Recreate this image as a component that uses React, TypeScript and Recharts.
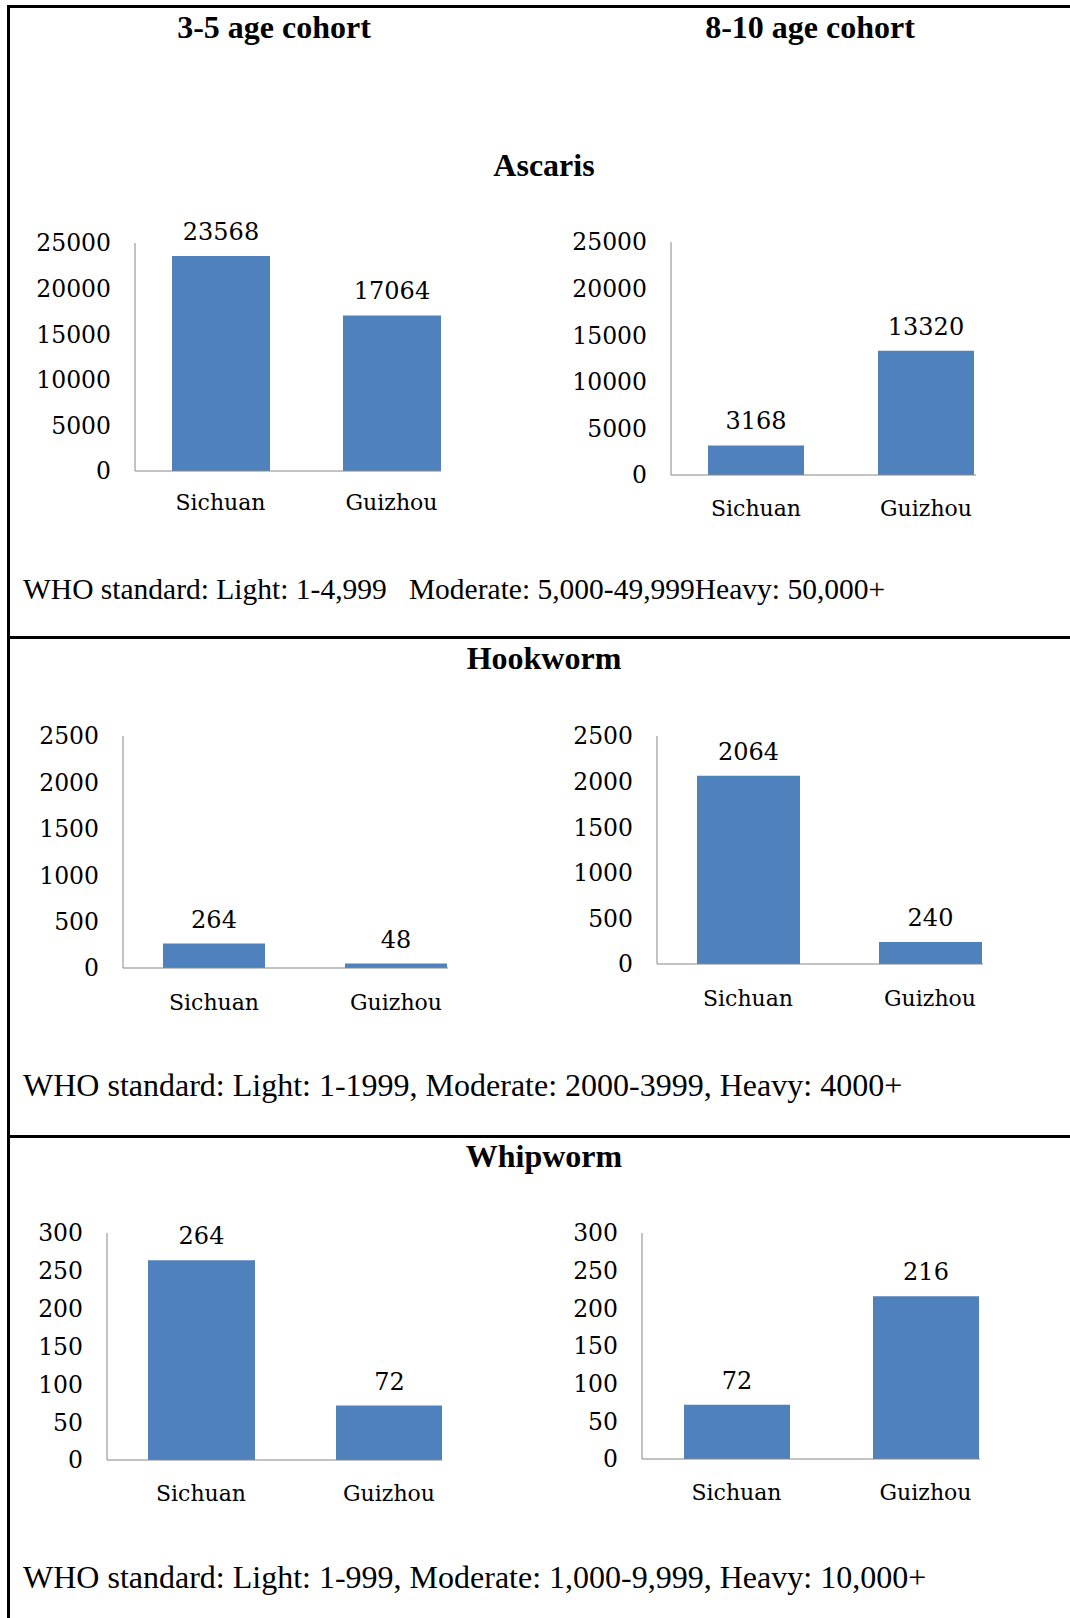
import { BarChart, Bar, XAxis, YAxis, LabelList } from 'recharts';

const categories = ['Sichuan', 'Guizhou'];

const ascarisYoung = [23568, 17064];
const ascarisOld = [3168, 13320];
const hookwormYoung = [264, 48];
const hookwormOld = [2064, 240];
const whipwormYoung = [264, 72];
const whipwormOld = [72, 216];

const ascarisTicks = [0, 5000, 10000, 15000, 20000, 25000];
const hookwormTicks = [0, 500, 1000, 1500, 2000, 2500];
const whipwormTicks = [0, 50, 100, 150, 200, 250, 300];

const cohortTitles = ['3-5 age cohort', '8-10 age cohort'];
const parasiteTitles = ['Ascaris', 'Hookworm', 'Whipworm'];
const whoNotes = [
  'WHO standard: Light: 1-4,999\u00a0\u00a0\u00a0Moderate: 5,000-49,999Heavy: 50,000+',
  'WHO standard: Light: 1-1999, Moderate: 2000-3999, Heavy: 4000+',
  'WHO standard: Light: 1-999, Moderate: 1,000-9,999, Heavy: 10,000+',
];

const BLUE = '#4F81BD';
const AXIS = '#868686';
const chartFont = '"DejaVu Serif", serif';
const textFont = '"Liberation Serif", "Times New Roman", serif';

const YW = 110; // y axis width
const MT = 40; // room above the plot for value labels
const XH = 60; // x axis height

type PanelProps = {
  values: number[];
  ticks: number[];
  axisX: number;
  top: number;
  baseline: number;
  band: number;
  barSize: number;
  clipRight: number;
  catMargin: number;
};

// one small bar chart; the wrapper trims the x axis at the right bar edge like the source image
function Panel({ values, ticks, axisX, top, baseline, band, barSize, clipRight, catMargin }: PanelProps) {
  const data = categories.map((name, i) => ({ name, value: values[i] }));
  const plotH = baseline - top;
  const width = YW + band * categories.length;
  const height = MT + plotH + XH;
  const left = axisX - YW;
  const y0 = top - MT;
  const tickStyle = { fontFamily: chartFont, fontSize: 23.5, fill: '#000' };
  return (
    <div style={{ position: 'absolute', left, top: y0, width: clipRight - left, height, overflow: 'hidden' }}>
      <BarChart width={width} height={height} data={data} margin={{ top: MT, right: 0, left: 0, bottom: 0 }}>
        <XAxis
          dataKey="name"
          height={XH}
          stroke={AXIS}
          tickLine={false}
          tickSize={0}
          tickMargin={catMargin}
          interval={0}
          tick={{ fontFamily: chartFont, fontSize: 22, fill: '#000' }}
        />
        <YAxis
          width={YW}
          domain={[0, ticks[ticks.length - 1]]}
          ticks={ticks}
          stroke={AXIS}
          tickLine={false}
          tickSize={0}
          tickMargin={24}
          interval={0}
          tick={tickStyle}
        />
        <Bar dataKey="value" fill={BLUE} barSize={barSize} isAnimationActive={false}>
          <LabelList dataKey="value" position="top" offset={16} style={{ fontFamily: chartFont, fontSize: 24, fill: '#000' }} />
        </Bar>
      </BarChart>
    </div>
  );
}

const title = (text: string, cx: number, cy: number) => (
  <div
    style={{
      position: 'absolute',
      left: cx - 200,
      top: cy - 20,
      width: 400,
      height: 40,
      lineHeight: '40px',
      textAlign: 'center',
      fontFamily: textFont,
      fontWeight: 'bold',
      fontSize: 32,
      color: '#000',
    }}
  >
    {text}
  </div>
);

const note = (text: string, cy: number, size: number) => (
  <div
    style={{
      position: 'absolute',
      left: 23,
      top: cy - 20,
      height: 40,
      lineHeight: '40px',
      whiteSpace: 'nowrap',
      fontFamily: textFont,
      fontSize: size,
      color: '#000',
    }}
  >
    {text}
  </div>
);

const hLine = (y: number) => (
  <div style={{ position: 'absolute', left: 7, top: y, width: 1063, height: 3, background: '#000' }} />
);

export default function App() {
  return (
    <div style={{ position: 'absolute', left: 0, top: 0, width: 1070, height: 1618, background: '#fff', overflow: 'hidden' }}>
      {/* frame */}
      <div style={{ position: 'absolute', left: 7, top: 5, width: 3, height: 1613, background: '#000' }} />
      {hLine(5)}
      {hLine(636)}
      {hLine(1135)}

      {title(cohortTitles[0], 274, 27)}
      {title(cohortTitles[1], 810, 27)}

      {title(parasiteTitles[0], 544, 165)}
      <Panel values={ascarisYoung} ticks={ascarisTicks} axisX={135} top={243} baseline={471} band={171} barSize={98} clipRight={441} catMargin={23} />
      <Panel values={ascarisOld} ticks={ascarisTicks} axisX={671} top={242} baseline={475} band={170} barSize={96} clipRight={976} catMargin={25} />
      {note(whoNotes[0], 589, 29.5)}

      {title(parasiteTitles[1], 544, 658)}
      <Panel values={hookwormYoung} ticks={hookwormTicks} axisX={123} top={736} baseline={968} band={182} barSize={102} clipRight={448} catMargin={26} />
      <Panel values={hookwormOld} ticks={hookwormTicks} axisX={657} top={736} baseline={964} band={182} barSize={103} clipRight={983} catMargin={26} />
      {note(whoNotes[1], 1085, 32)}

      {title(parasiteTitles[2], 544, 1156)}
      <Panel values={whipwormYoung} ticks={whipwormTicks} axisX={107} top={1233} baseline={1460} band={188} barSize={107} clipRight={442} catMargin={25} />
      <Panel values={whipwormOld} ticks={whipwormTicks} axisX={642} top={1233} baseline={1459} band={189} barSize={106} clipRight={980} catMargin={25} />
      {note(whoNotes[2], 1577, 32)}
    </div>
  );
}
